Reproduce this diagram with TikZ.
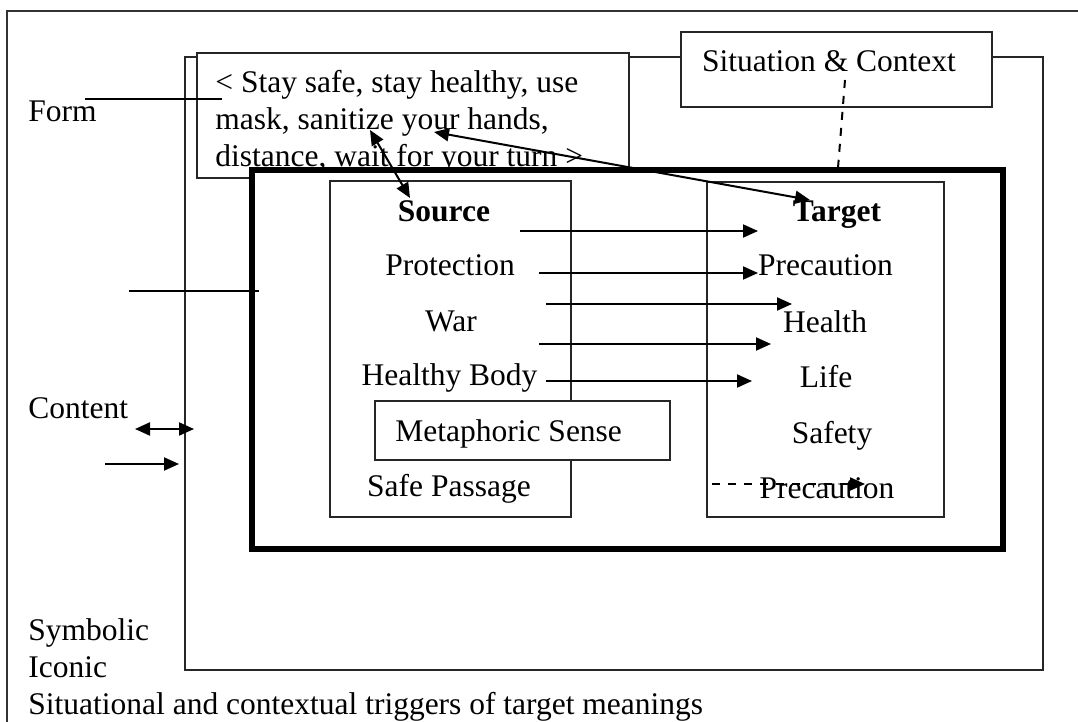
\documentclass[tikz,border=0pt]{standalone}
\usepackage{fontspec}
\setmainfont{Liberation Serif}
\usetikzlibrary{arrows.meta}
\begin{document}
\begin{tikzpicture}[x=0.5pt,y=-0.5pt,
  thinbox/.style={draw=black!85, line width=0.75pt, fill=white, inner sep=0pt},
  thickbox/.style={draw=black, line width=3pt, fill=white, inner sep=0pt},
  lbl/.style={inner sep=0pt, anchor=base, font=\fontsize{15.75}{18.9}\selectfont},
  lblw/.style={lbl, anchor=base west},
  bold/.style={lbl, font=\fontsize{15.75}{18.9}\selectfont\bfseries},
  conn/.style={line width=1pt, -{Triangle[length=7.5pt,width=6.5pt]}},
  dconn/.style={line width=1pt, {Triangle[length=7.5pt,width=6.5pt]}-{Triangle[length=7.5pt,width=6.5pt]}},
  plain/.style={line width=1pt},
  dashconn/.style={line width=1pt, dash pattern=on 4pt off 4pt}]
\useasboundingbox (0,0) rectangle (1078,722);
\fill[white] (0,0) rectangle (1078,722);
% outer frame
\coordinate (obl) at (7,722);
\coordinate (otl) at (7,11);
\coordinate (otr) at (1078,11);
\draw[line width=0.75pt, black!80] (obl) -- (otl) -- (otr);
% medium frame
\node[thinbox, minimum width=429pt, minimum height=306.5pt] (frame) at (614,363.5) {};
% form text box
\node[thinbox, minimum width=216pt, minimum height=62.5pt] (formbox) at (413,115.5) {};
\node[lblw] (f1) at (215,93) {< Stay safe, stay healthy, use};
\node[lblw] (f2) at (215,130) {mask, sanitize your hands,};
\node[lblw] (f3) at (215,167) {distance, wait for your turn >};
% situation box
\node[thinbox, minimum width=155.5pt, minimum height=37.5pt] (sitbox) at (836.5,69.5) {};
\node[lbl] (sit) at (829,72) {Situation \& Context};
% thick box
\node[thickbox, minimum width=375.5pt, minimum height=189.5pt] (thick) at (627.5,359.5) {};
% source and target boxes
\node[thinbox, minimum width=120.5pt, minimum height=168pt] (srcbox) at (450.5,349) {};
\node[thinbox, minimum width=118.5pt, minimum height=167.5pt] (tgtbox) at (825.5,349.5) {};
\node[thinbox, minimum width=147.5pt, minimum height=29.5pt] (metabox) at (522.5,430.5) {};
% source texts
\node[bold] (source) at (444,221) {Source};
\node[lbl] (prot) at (450,276) {Protection};
\node[lbl] (war) at (451,331) {War};
\node[lbl] (hbody) at (449.5,386) {Healthy Body};
\node[lblw] (meta) at (395,441) {Metaphoric Sense};
\node[lbl] (safep) at (449,496) {Safe Passage};
% target texts
\node[bold] (target) at (837,222) {Target};
\node[lbl] (prec1) at (825.5,276) {Precaution};
\node[lbl] (health) at (825,332) {Health};
\node[lbl] (life) at (826,387) {Life};
\node[lbl] (safety) at (832,443) {Safety};
\node[lbl] (prec2) at (827,498) {Precaution};
% left labels
\node[lblw] (form) at (28,122) {Form};
\node[lblw] (content) at (28,418) {Content};
\node[lblw] (symb) at (28,640) {Symbolic};
\node[lblw] (icon) at (28,677) {Iconic};
\node[lblw] (situ) at (28,714) {Situational and contextual triggers of target meanings};
% connector end points
\coordinate (a1s) at (520,231); \coordinate (a1e) at (758,231);
\coordinate (a2s) at (539,273); \coordinate (a2e) at (758,273);
\coordinate (a3s) at (546,304); \coordinate (a3e) at (792,304);
\coordinate (a4s) at (539,344); \coordinate (a4e) at (771,344);
\coordinate (a5s) at (546,381); \coordinate (a5e) at (752,381);
\coordinate (a6s) at (712,484); \coordinate (a6e) at (865,484);
\coordinate (d1s) at (370,130); \coordinate (d1e) at (410,198);
\coordinate (d2s) at (434,132); \coordinate (d2e) at (810,200);
\coordinate (sits) at (845,80); \coordinate (site) at (838,168);
\coordinate (fls) at (85,99); \coordinate (fle) at (222,99);
\coordinate (cls) at (129,291); \coordinate (cle) at (259,291);
\coordinate (l1s) at (135,429); \coordinate (l1e) at (194,429);
\coordinate (l2s) at (105,464); \coordinate (l2e) at (179,464);
% connectors
\draw[conn] (a1s) -- (a1e);
\draw[conn] (a2s) -- (a2e);
\draw[conn] (a3s) -- (a3e);
\draw[conn] (a4s) -- (a4e);
\draw[conn] (a5s) -- (a5e);
\draw[conn, dash pattern=on 4pt off 4pt] (a6s) -- (a6e);
\draw[dconn] (d1s) -- (d1e);
\draw[dconn] (d2s) -- (d2e);
\draw[dashconn] (sits) -- (site);
\draw[plain] (fls) -- (fle);
\draw[plain] (cls) -- (cle);
\draw[dconn] (l1s) -- (l1e);
\draw[conn] (l2s) -- (l2e);
\end{tikzpicture}
\end{document}
